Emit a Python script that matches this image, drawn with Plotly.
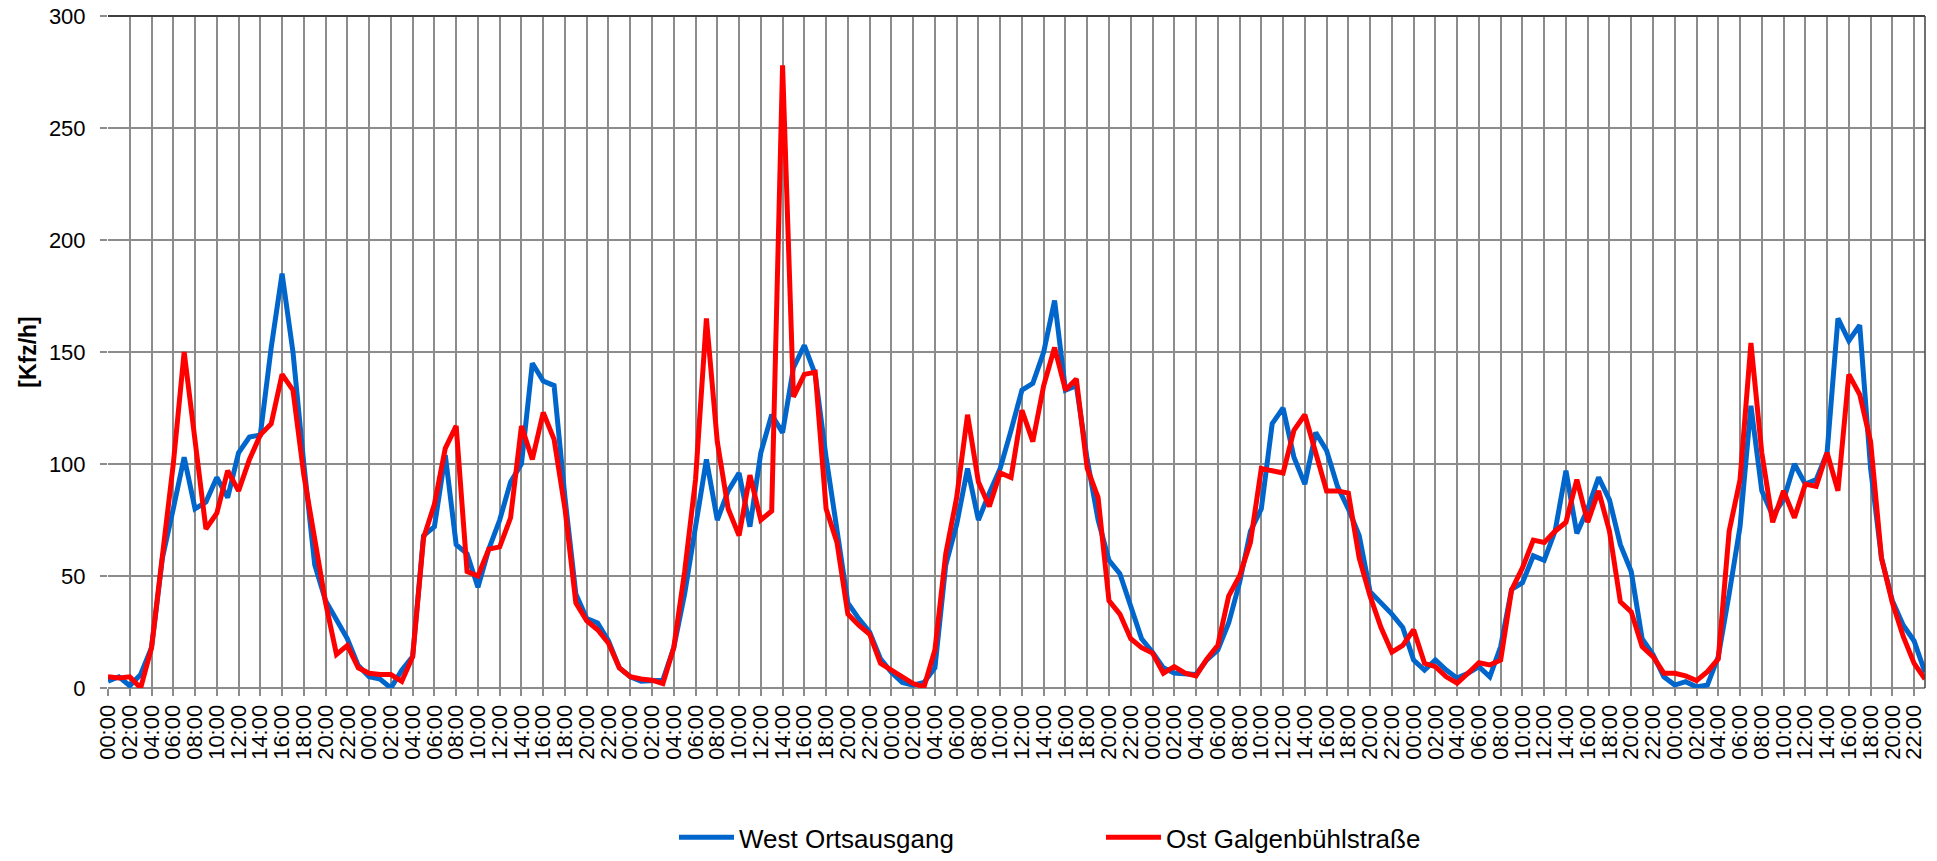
import plotly.graph_objects as go

hour_labels = ["00:00", "02:00", "04:00", "06:00", "08:00", "10:00",
               "12:00", "14:00", "16:00", "18:00", "20:00", "22:00"]
n_days = 7

west_ortsausgang = [
    # day 1
    3, 5, 1, 6, 18, 58, 80, 103, 80, 83, 94, 85, 105, 112, 113, 152, 185, 150, 100, 55, 39, 30, 22, 10,
    # day 2
    5, 4, 0, 8, 14, 68, 72, 104, 64, 60, 45, 62, 75, 92, 100, 145, 137, 135, 85, 42, 31, 29, 21, 9,
    # day 3
    5, 3, 3, 3.5, 18, 42, 72, 102, 75, 88, 96, 72, 105, 122, 114, 143, 153, 140, 103, 70, 38, 31, 25, 13,
    # day 4
    7, 2.5, 1.3, 2.5, 9, 55, 73, 98, 75, 87, 98, 115, 133, 136, 150, 173, 133, 135, 102, 75, 57, 51, 37, 22,
    # day 5
    16, 9, 6.7, 6.6, 6, 12.6, 17, 29, 47, 70, 80, 118, 125, 103, 91, 114, 106, 90, 80, 68, 43, 38, 33, 27,
    # day 6
    12.5, 8, 12.5, 8, 4.4, 6.6, 9.5, 5, 18.5, 44, 47, 59, 57, 70, 97, 69, 80, 94, 84, 64, 52, 22, 15, 5,
    # day 7
    1.3, 2.8, 0.5, 1.3, 14, 42, 72, 126, 88, 77, 84, 100, 91, 93, 105, 165, 155, 162, 98, 58, 39, 28, 21, 7,
]

ost_galgenbuehlstrasse = [
    # day 1
    5, 4.5, 5, 0, 18, 60, 100, 150, 112, 71, 78, 97, 88, 102, 113, 118, 140, 133, 95, 65, 38, 15, 19, 9,
    # day 2
    6.6, 6, 6, 3, 14, 67, 82, 107, 117, 52, 50, 62, 63, 76, 117, 102, 123, 111, 80, 38, 30, 26, 20, 9,
    # day 3
    5, 4, 3.5, 2, 18, 52, 93, 165, 110, 80, 68, 95, 75, 79, 278, 130, 140, 141, 80, 65, 33, 28, 24, 11,
    # day 4
    8, 5, 2, 0.5, 17, 60, 85, 122, 92, 81, 96, 94, 124, 110, 135, 152, 133, 138, 98, 85, 39, 33, 22, 18,
    # day 5
    15.6, 6.6, 9.5, 6.6, 5.4, 13, 19, 41, 50, 65, 98, 97, 96, 115, 122, 105, 88, 88, 87, 58, 41, 27, 16, 19,
    # day 6
    26, 11, 9.5, 5, 2.2, 6.6, 11.3, 10.3, 12.5, 43.7, 53.6, 66, 65, 70, 74, 93, 74, 88, 70, 38.5, 34, 18.5, 14, 6.6,
    # day 7
    6.6, 5.4, 3.3, 7.3, 13, 70, 93, 154, 105, 74, 88, 76, 91, 90, 105, 88, 140, 131, 110, 58, 38, 23, 11, 4,
]

series_names = ["West Ortsausgang", "Ost Galgenbühlstraße"]
series_colors = ["#0066CC", "#FF0000"]

hours = list(range(len(west_ortsausgang)))
tick_text = hour_labels * n_days
tick_vals = list(range(0, len(hours), 2))

font_family = "Liberation Sans, Arial, sans-serif"

fig = go.Figure()
for name, vals, col in zip(series_names, [west_ortsausgang, ost_galgenbuehlstrasse], series_colors):
    fig.add_trace(go.Scatter(
        x=hours, y=vals, name=name, mode="lines",
        line=dict(color=col, width=5),
    ))

grid_col = "#8C8C8C"
fig.update_layout(
    width=1937, height=861,
    margin=dict(l=108, r=12, t=16, b=173, autoexpand=False),
    paper_bgcolor="white", plot_bgcolor="white",
    font=dict(family=font_family, color="black", size=22),
    showlegend=True,
    legend=dict(
        orientation="h", x=0.3115, xanchor="left", y=-0.2574, yanchor="bottom",
        font=dict(size=26, family=font_family, color="black"),
        entrywidth=357, entrywidthmode="pixels",
        itemwidth=55, bgcolor="rgba(0,0,0,0)", borderwidth=0,
    ),
    xaxis=dict(
        range=[0, len(hours) - 1], automargin=False,
        tickmode="array", tickvals=tick_vals, ticktext=tick_text,
        tickangle=-90, tickfont=dict(size=22, family=font_family),
        showgrid=True, gridcolor=grid_col, gridwidth=1.5,
        ticks="outside", ticklen=7, tickcolor=grid_col, tickwidth=1.5,
        showline=False, zeroline=False,
    ),
    yaxis=dict(
        range=[0, 300], tickmode="array", tickvals=[0, 50, 100, 150, 200, 250, 300],
        automargin=False,
        tickfont=dict(size=22, family=font_family),
        showgrid=True, gridcolor=grid_col, gridwidth=1.5,
        ticks="outside", ticklen=7, tickcolor=grid_col, tickwidth=1.5,
        ticklabelstandoff=10,
        zeroline=True, zerolinecolor=grid_col, zerolinewidth=1.5,
        showline=False,
        title=dict(text="<b>[Kfz/h]</b>", font=dict(size=23, family=font_family), standoff=5),
    ),
    shapes=[
        dict(type="line", xref="paper", yref="paper", x0=0, x1=1, y0=1, y1=1,
             line=dict(color="#404040", width=2)),
        dict(type="line", xref="paper", yref="paper", x0=1, x1=1, y0=0, y1=1,
             line=dict(color="#404040", width=1.5)),
    ],
)

fig.write_html(
    "out.html",
    config={"displayModeBar": False},
    post_script="document.body.style.margin='0px';document.body.style.overflow='hidden';",
)
